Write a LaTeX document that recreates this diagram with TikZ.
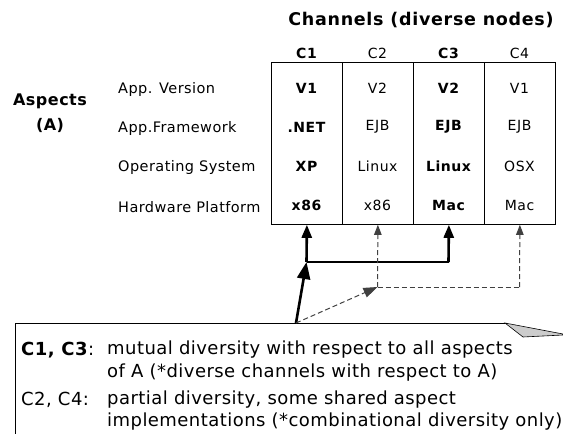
\documentclass[tikz,border=0pt]{standalone}
\usepackage{fontspec}
\setmainfont{DejaVu Sans}
\newfontfamily\lsLab[LetterSpace=3]{DejaVu Sans}
\newfontfamily\lsCell[LetterSpace=4]{DejaVu Sans}
\newfontfamily\lsTitle[LetterSpace=4]{DejaVu Sans}
\newfontfamily\lsNote[LetterSpace=2.5]{DejaVu Sans}
\usetikzlibrary{arrows.meta}
\begin{document}
\begin{tikzpicture}[x=1pt,y=-1pt,
  col/.style={draw,line width=0.8pt,minimum width=71pt,minimum height=162pt,inner sep=0pt,anchor=north west},
  cell/.style={font=\lsCell\fontsize{14}{16}\selectfont,inner sep=0pt},
  bcell/.style={font=\lsCell\fontsize{14}{16}\selectfont\bfseries,inner sep=0pt},
  lab/.style={font=\lsLab\fontsize{14.5}{16}\selectfont,anchor=west,inner sep=0pt},
  hdr/.style={font=\lsCell\fontsize{14}{16}\selectfont,inner sep=0pt},
  bhdr/.style={font=\lsCell\fontsize{14}{16}\selectfont\bfseries,inner sep=0pt},
  asp/.style={font=\lsLab\fontsize{16}{19}\selectfont\bfseries,inner sep=0pt},
  notetxt/.style={font=\lsNote\fontsize{18}{21}\selectfont,anchor=west,inner sep=0pt},
  thickarr/.style={line width=2.6pt,-{Triangle[length=13pt,width=10pt]}},
  bigarr/.style={line width=2.6pt,-{Triangle[length=17pt,width=13pt]}},
  thickln/.style={line width=2.6pt},
  dasharr/.style={line width=1pt,color=black!75,dash pattern=on 5pt off 3pt,-{Triangle[length=10pt,width=7.5pt]}},
  bigdasharr/.style={line width=1pt,color=black!75,dash pattern=on 5pt off 3pt,-{Triangle[length=14pt,width=10pt]}},
  dashln/.style={line width=1pt,color=black!75,dash pattern=on 5pt off 3pt}]
\useasboundingbox (0,0) rectangle (563,434);
% title
\node[font=\lsTitle\fontsize{17.5}{20}\selectfont\bfseries,inner sep=0pt] (title) at (421,20) {Channels (diverse nodes)};
% columns
\node[col] (c1) at (271,62) {};
\node[col] (c2) at (342,62) {};
\node[col] (c3) at (413,62) {};
\node[col] (c4) at (484,62) {};
% headers
\node[bhdr] (h1) at (306.5,53) {C1};
\node[hdr] (h2) at (377.5,53) {C2};
\node[bhdr] (h3) at (448.5,53) {C3};
\node[hdr] (h4) at (519.5,53) {C4};
% aspects
\node[asp] (asp) at (50,101) {Aspects};
\node[asp] (aspa) at (50,125) {(A)};
\node[lab] (l1) at (118,89) {App. Version};
\node[lab] (l2) at (118,128) {App.Framework};
\node[lab] (l3) at (118,167) {Operating System};
\node[lab] (l4) at (118,207) {Hardware Platform};
% cells
\node[bcell] (v11) at (306.5,88) {V1};
\node[bcell] (v12) at (306.5,127) {.NET};
\node[bcell] (v13) at (306.5,166) {XP};
\node[bcell] (v14) at (306.5,205) {x86};
\node[cell] (v21) at (377.5,88) {V2};
\node[cell] (v22) at (377.5,127) {EJB};
\node[cell] (v23) at (377.5,166) {Linux};
\node[cell] (v24) at (377.5,205) {x86};
\node[bcell] (v31) at (448.5,88) {V2};
\node[bcell] (v32) at (448.5,127) {EJB};
\node[bcell] (v33) at (448.5,166) {Linux};
\node[bcell] (v34) at (448.5,205) {Mac};
\node[cell] (v41) at (519.5,88) {V1};
\node[cell] (v42) at (519.5,127) {EJB};
\node[cell] (v43) at (519.5,166) {OSX};
\node[cell] (v44) at (519.5,205) {Mac};
% note box
\draw[line width=0.8pt] (15,434) -- (15,323) -- (505,323);
\draw[line width=0.6pt,fill=black!20] (505,323) -- (523,337) -- (563,335) -- (563,334) -- cycle;
\node[notetxt] (n1) at (21,350) {\textbf{C1, C3}:};
\node[notetxt] (n1b) at (107,350) {mutual diversity with respect to all aspects};
\node[notetxt] (n2) at (107,373) {of A (*diverse channels with respect to A)};
\node[notetxt] (n3) at (21,400) {C2, C4:};
\node[notetxt] (n3b) at (107,400) {partial diversity, some shared aspect};
\node[notetxt] (n4) at (107,422) {implementations (*combinational diversity only)};
% connectors
\coordinate (o) at (296,323);
\coordinate (j1) at (306.5,262);
\coordinate (j3) at (448.5,262);
\coordinate (d2) at (377.5,287);
\coordinate (d4) at (519.5,287);
\draw[bigarr] (o) -- (j1);
\draw[thickln] (j1) -- (j3);
\draw[thickarr] (j1) -- (c1.south);
\draw[thickarr] (j3) -- (c3.south);
\draw[bigdasharr] (o) -- (d2);
\draw[dashln] (d2) -- (d4);
\draw[dasharr] (d2) -- (c2.south);
\draw[dasharr] (d4) -- (c4.south);
\end{tikzpicture}
\end{document}
